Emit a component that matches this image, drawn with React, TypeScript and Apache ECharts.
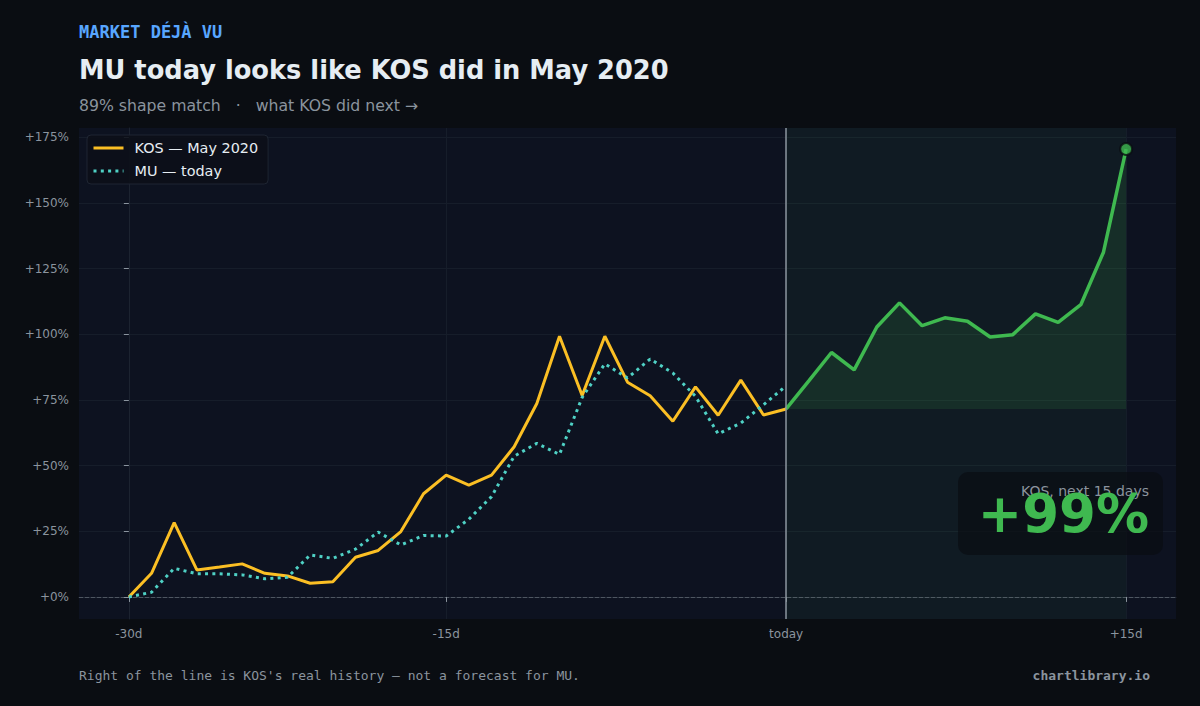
import React, { useEffect, useRef } from "react";
import * as echarts from "echarts";

// ---- data (values in % change from start, x = trading-day index) ----
const kosPast = [
  0, 9.0, 28.3, 10.3, 11.4, 12.6, 9.0, 8.0, 5.2, 5.8, 15.1, 17.7, 24.9, 39.3, 46.4,
  42.6, 46.4, 57.2, 73.7, 99.3, 76.7, 99.3, 81.8, 76.6, 66.9, 80.0, 69.2, 82.6, 69.3, 71.6,
];
const muToday = [
  0, 1.8, 10.9, 8.8, 8.8, 8.4, 6.9, 7.5, 16.0, 14.7, 18.2, 24.7, 19.8, 23.4, 23.2,
  29.6, 38.2, 53.6, 58.5, 54.3, 76.0, 88.8, 83.4, 90.6, 85.3, 76.4, 62.1, 66.2, 73.2, 80.4,
];
const kosNext = [
  71.6, 82.3, 93.1, 86.5, 102.8, 112.0, 103.3, 106.3, 105.0, 99.0, 99.9, 107.8, 104.6,
  111.3, 131.3, 170.6,
];
const todayIndex = 29;
const xTickIndex = [0, 14, 29, 44];
const xTickLabels = ["-30d", "-15d", "today", "+15d"];
const yTicks = [0, 25, 50, 75, 100, 125, 150, 175];

const seriesNames = ["KOS — May 2020", "MU — today"];
const headerKicker = "MARKET DÉJÀ VU";
const headerTitle = "MU today looks like KOS did in May 2020";
const headerSub = "89% shape match   ·   what KOS did next →";
const calloutLabel = "KOS, next 15 days";
const footerNote = "Right of the line is KOS's real history — not a forecast for MU.";
const footerBrand = "chartlibrary.io";

const SANS = "'DejaVu Sans', sans-serif";
const MONO = "'DejaVu Sans Mono', monospace";

export default function App() {
  const ref = useRef<HTMLDivElement>(null);

  useEffect(() => {
    if (!ref.current) return;
    const chart = echarts.init(ref.current, null, { renderer: "svg" });

    const kosData = kosPast.map((v, i) => [i, v]);
    const muData = muToday.map((v, i) => [i, v]);
    const nextData = kosNext.map((v, i) => [todayIndex + i, v]);
    const lastIdx = todayIndex + kosNext.length - 1;
    const gain = Math.round(kosNext[kosNext.length - 1] - kosNext[0]);

    const option: any = {
      animation: false,
      backgroundColor: "#0a0d12",
      textStyle: { fontFamily: SANS },
      grid: {
        left: 79,
        right: 24,
        top: 128,
        bottom: 87,
        show: true,
        backgroundColor: "#0d1220",
        borderWidth: 0,
      },
      legend: {
        data: seriesNames,
        orient: "vertical",
        left: 87,
        top: 135,
        padding: [6, 10, 6, 5],
        itemWidth: 30,
        itemHeight: 14,
        itemGap: 9,
        backgroundColor: "rgba(12,16,24,0.9)",
        borderColor: "#1e2532",
        borderWidth: 1,
        borderRadius: 4,
        itemStyle: { opacity: 0, borderWidth: 0 },
        lineStyle: { width: 3 },
        textStyle: {
          color: "#e6edf3",
          fontSize: 14.4,
          fontFamily: SANS,
          padding: [0, 0, 0, 6],
        },
      },
      xAxis: {
        type: "value",
        min: -2.2,
        max: 46.2,
        axisLine: { show: true, lineStyle: { color: "#262d3a", width: 1 } },
        axisTick: {
          show: true,
          length: 5,
          customValues: xTickIndex,
          lineStyle: { color: "#8b949e" },
        },
        axisLabel: {
          customValues: xTickIndex,
          color: "#8b949e",
          fontSize: 12,
          fontFamily: SANS,
          margin: 9,
          formatter: (v: number) => {
            const k = xTickIndex.indexOf(Math.round(v));
            return k >= 0 ? xTickLabels[k] : "";
          },
        },
        splitLine: { show: true, lineStyle: { color: "#161d2a", width: 1 } },
      },
      yAxis: {
        type: "value",
        min: -8.4,
        max: 178.6,
        axisLine: { show: true, lineStyle: { color: "#1c2330", width: 1 } },
        axisTick: {
          show: true,
          length: 5,
          customValues: yTicks,
          lineStyle: { color: "#8b949e" },
        },
        axisLabel: {
          customValues: yTicks,
          color: "#8b949e",
          fontSize: 12,
          fontFamily: SANS,
          margin: 10,
          formatter: (v: number) => `+${Math.round(v)}%`,
        },
        splitLine: { show: true, lineStyle: { color: "#161d2a", width: 1 } },
      },
      series: [
        {
          name: "KOS next",
          type: "line",
          data: nextData,
          symbol: "none",
          z: 3,
          lineStyle: { color: "#3fb950", width: 3.5 },
          itemStyle: { color: "#3fb950" },
          areaStyle: { origin: kosNext[0], color: "rgba(63,185,80,0.18)" },
          markArea: {
            silent: true,
            itemStyle: { color: "rgba(63,185,80,0.06)" },
            data: [[{ xAxis: todayIndex }, { xAxis: lastIdx }]],
          },
          markLine: {
            silent: true,
            symbol: "none",
            label: { show: false },
            data: [
              { xAxis: todayIndex, lineStyle: { color: "#8b949e", width: 1.5, type: "solid" } },
              { yAxis: 0, lineStyle: { color: "rgba(139,148,158,0.4)", width: 1, type: "dashed" } },
            ],
          },
        },
        {
          name: seriesNames[0],
          type: "line",
          data: kosData,
          symbol: "none",
          z: 4,
          lineStyle: { color: "#fbbf24", width: 3 },
          itemStyle: { color: "#fbbf24" },
        },
        {
          name: seriesNames[1],
          type: "line",
          data: muData,
          symbol: "none",
          z: 5,
          lineStyle: { color: "#4fd1c5", width: 3, type: [3, 4.3] },
          itemStyle: { color: "#4fd1c5" },
        },
        {
          name: "end",
          type: "scatter",
          data: [[lastIdx, kosNext[kosNext.length - 1]]],
          symbolSize: 12,
          z: 6,
          itemStyle: { color: "#3fb950", borderColor: "#0a0d12", borderWidth: 2 },
        },
      ],
      graphic: [
        {
          type: "text",
          left: 79,
          top: 23,
          style: {
            text: headerKicker,
            fill: "#58a6ff",
            font: `bold 17px ${MONO}`,
          },
        },
        {
          type: "text",
          left: 79,
          top: 57,
          style: {
            text: headerTitle,
            fill: "#e6edf3",
            font: `bold 25.7px ${SANS}`,
          },
        },
        {
          type: "text",
          left: 79,
          top: 97,
          style: {
            text: headerSub,
            fill: "#8b949e",
            font: `15.7px ${SANS}`,
          },
        },
        {
          type: "rect",
          shape: { x: 958, y: 472, width: 205, height: 83, r: 10 },
          style: { fill: "rgba(10,13,18,0.7)" },
          z: 10,
        },
        {
          type: "text",
          x: 1149,
          y: 491,
          z: 11,
          style: {
            text: calloutLabel,
            fill: "#8b949e",
            font: `14px ${SANS}`,
            textAlign: "right",
            textVerticalAlign: "middle",
          },
        },
        {
          type: "text",
          x: 1149,
          y: 513,
          z: 12,
          style: {
            text: `+${gain}%`,
            fill: "#3fb950",
            font: `bold 53px ${SANS}`,
            textAlign: "right",
            textVerticalAlign: "middle",
          },
        },
        {
          type: "text",
          x: 79,
          y: 675,
          style: {
            text: footerNote,
            fill: "#8b949e",
            font: `13px ${MONO}`,
            textAlign: "left",
            textVerticalAlign: "middle",
          },
        },
        {
          type: "text",
          x: 1150,
          y: 675,
          style: {
            text: footerBrand,
            fill: "#8b949e",
            font: `bold 13px ${MONO}`,
            textAlign: "right",
            textVerticalAlign: "middle",
          },
        },
      ],
    };

    chart.setOption(option);
    return () => chart.dispose();
  }, []);

  return (
    <div
      ref={ref}
      style={{ position: "fixed", left: 0, top: 0, width: 1200, height: 706, background: "#0a0d12" }}
    />
  );
}
